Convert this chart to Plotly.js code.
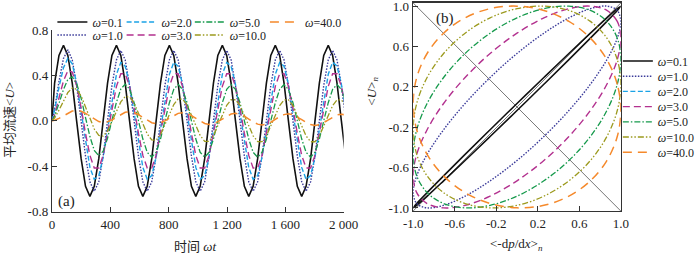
<!DOCTYPE html>
<html>
<head>
<meta charset="utf-8">
<script src="https://cdn.plot.ly/plotly-3.0.1.min.js"></script>
<style>html,body{margin:0;padding:0;background:#fff;}#chart{width:700px;height:254px;}</style>
</head>
<body>
<div id="chart"></div>
<script>
// ---------- data: panel (a), mean velocity vs time ----------
const omegaLabels = ['0.1', '1.0', '2.0', '3.0', '5.0', '10.0', '40.0'];
const timeTickVals = [0, 400, 800, 1200, 1600, 2000];
const timeTickText = ['0', '400', '800', '1 200', '1 600', '2 000'];
const velTickVals = [-0.8, -0.4, 0, 0.4, 0.8];
const velTickText = ['-0.8', '-0.4', '0.0', '0.4', '0.8'];

const tOmega = [0,
 18,48,79,109,139,169,200,230,260,290,321,351,
 381,411,442,472,502,532,563,593,623,653,684,714,
 744,774,805,835,865,895,926,956,986,1016,1047,1077,
 1107,1137,1168,1198,1228,1258,1289,1319,1349,1379,1410,1440,
 1470,1500,1531,1561,1591,1621,1652,1682,1712,1742,1773,1803,
 1833,1863,1894,1924,1954,1984,2015];

const uW01 = [0,
 0.333,0.576,0.665,0.576,0.333,0,-0.333,-0.576,-0.665,-0.576,-0.333,0,
 0.333,0.576,0.665,0.576,0.333,0,-0.333,-0.576,-0.665,-0.576,-0.333,0,
 0.333,0.576,0.665,0.576,0.333,0,-0.333,-0.576,-0.665,-0.576,-0.333,0,
 0.333,0.576,0.665,0.576,0.333,0,-0.333,-0.576,-0.665,-0.576,-0.333,0,
 0.333,0.576,0.665,0.576,0.333,0,-0.333,-0.576,-0.665,-0.576,-0.333,0,
 0.333,0.576,0.665,0.576,0.333,0,-0.333];

const uW1 = [0,
 0.103,0.346,0.550,0.625,0.537,0.310,0,-0.310,-0.537,-0.620,-0.537,-0.310,
 0,0.310,0.537,0.620,0.537,0.310,0,-0.310,-0.537,-0.620,-0.537,-0.310,
 0,0.310,0.537,0.620,0.537,0.310,0,-0.310,-0.537,-0.620,-0.537,-0.310,
 0,0.310,0.537,0.620,0.537,0.310,0,-0.310,-0.537,-0.620,-0.537,-0.310,
 0,0.310,0.537,0.620,0.537,0.310,0,-0.310,-0.537,-0.620,-0.537,-0.310,
 0,0.310,0.537,0.620,0.537,0.310,0];

const uW2 = [0,
 0.095,0.295,0.468,0.550,0.503,0.332,0.079,-0.191,-0.410,-0.515,-0.482,-0.320,
 -0.072,0.195,0.410,0.515,0.482,0.320,0.072,-0.195,-0.410,-0.515,-0.482,-0.320,
 -0.072,0.195,0.410,0.515,0.482,0.320,0.072,-0.195,-0.410,-0.515,-0.482,-0.320,
 -0.072,0.195,0.410,0.515,0.482,0.320,0.072,-0.195,-0.410,-0.515,-0.482,-0.320,
 -0.072,0.195,0.410,0.515,0.482,0.320,0.072,-0.195,-0.410,-0.515,-0.482,-0.320,
 -0.072,0.195,0.410,0.515,0.482,0.320,0.072];

const uW3 = [0,
 0.052,0.201,0.352,0.441,0.430,0.312,0.115,-0.111,-0.304,-0.415,-0.415,-0.304,
 -0.111,0.111,0.304,0.415,0.415,0.304,0.111,-0.111,-0.304,-0.415,-0.415,-0.304,
 -0.111,0.111,0.304,0.415,0.415,0.304,0.111,-0.111,-0.304,-0.415,-0.415,-0.304,
 -0.111,0.111,0.304,0.415,0.415,0.304,0.111,-0.111,-0.304,-0.415,-0.415,-0.304,
 -0.111,0.111,0.304,0.415,0.415,0.304,0.111,-0.111,-0.304,-0.415,-0.415,-0.304,
 -0.111,0.111,0.304,0.415,0.415,0.304,0.111];

const uW5 = [0,
 0.042,0.154,0.276,0.365,0.387,0.328,0.199,0.029,-0.138,-0.260,-0.307,-0.267,
 -0.153,0.006,0.164,0.280,0.323,0.279,0.161,0,-0.160,-0.277,-0.320,-0.277,
 -0.160,0,0.160,0.277,0.320,0.277,0.160,0,-0.160,-0.277,-0.320,-0.277,
 -0.160,0,0.160,0.277,0.320,0.277,0.160,0,-0.160,-0.277,-0.320,-0.277,
 -0.160,0,0.160,0.277,0.320,0.277,0.160,0,-0.160,-0.277,-0.320,-0.277,
 -0.160,0,0.160,0.277,0.320,0.277,0.160];

const uW10 = [0,
 0.025,0.094,0.178,0.250,0.289,0.278,0.219,0.125,0.020,-0.072,-0.128,-0.134,
 -0.089,-0.008,0.086,0.167,0.214,0.211,0.158,0.071,-0.029,-0.116,-0.168,-0.170,
 -0.121,-0.037,0.060,0.144,0.193,0.192,0.141,0.055,-0.043,-0.129,-0.180,-0.180,
 -0.130,-0.046,0.052,0.137,0.186,0.186,0.136,0.051,-0.047,-0.132,-0.182,-0.182,
 -0.133,-0.048,0.050,0.135,0.185,0.185,0.135,0.050,-0.048,-0.133,-0.184,-0.184,
 -0.134,-0.049,0.049,0.134,0.184,0.184,0.134];

const uW40 = [0,
 0.005,0.022,0.046,0.070,0.086,0.092,0.084,0.065,0.039,0.013,-0.006,-0.014,
 -0.008,0.009,0.033,0.057,0.075,0.081,0.073,0.054,0.029,0.003,-0.016,-0.024,
 -0.017,0.000,0.024,0.049,0.066,0.072,0.065,0.046,0.021,-0.005,-0.023,-0.031,
 -0.024,-0.007,0.018,0.042,0.060,0.066,0.059,0.041,0.015,-0.010,-0.029,-0.036,
 -0.029,-0.012,0.013,0.038,0.055,0.062,0.055,0.036,0.011,-0.014,-0.033,-0.040,
 -0.033,-0.015,0.009,0.034,0.052,0.059,0.052];

// ---------- data: panel (b), normalised velocity vs normalised pressure gradient ----------
const normTickVals = [-1, -0.6, -0.2, 0.2, 0.6, 1];
const normTickText = ['-1.0', '-0.6', '-0.2', '0.2', '0.6', '1.0'];
const gradN = [1,0.966,0.866,0.707,0.5,0.259,0,-0.259,-0.5,-0.707,-0.866,-0.966,-1,
 -0.966,-0.866,-0.707,-0.5,-0.259,0,0.259,0.5,0.707,0.866,0.966,1];
const uN01 = [0.999,0.974,0.883,0.731,0.530,0.292,0.035,-0.225,-0.469,-0.682,-0.848,-0.956,
 -0.999,-0.974,-0.883,-0.731,-0.530,-0.292,-0.035,0.225,0.469,0.682,0.848,0.956,0.999];
const uN1 = [0.848,0.956,0.999,0.974,0.883,0.731,0.530,0.292,0.035,-0.225,-0.469,-0.682,
 -0.848,-0.956,-0.999,-0.974,-0.883,-0.731,-0.530,-0.292,-0.035,0.225,0.469,0.682,0.848];
const gradN2 = [null];   // the omega=2.0 loop is not visible in panel (b)
const uN2 = [null];
const uN3 = [0.682,0.848,0.956,0.999,0.974,0.883,0.731,0.530,0.292,0.035,-0.225,-0.469,
 -0.682,-0.848,-0.956,-0.999,-0.974,-0.883,-0.731,-0.530,-0.292,-0.035,0.225,0.469,0.682];
const uN5 = [0.469,0.682,0.848,0.956,0.999,0.974,0.883,0.731,0.530,0.292,0.035,-0.225,
 -0.469,-0.682,-0.848,-0.956,-0.999,-0.974,-0.883,-0.731,-0.530,-0.292,-0.035,0.225,0.469];
const uN10 = [0.225,0.469,0.682,0.848,0.956,0.999,0.974,0.883,0.731,0.530,0.292,0.035,
 -0.225,-0.469,-0.682,-0.848,-0.956,-0.999,-0.974,-0.883,-0.731,-0.530,-0.292,-0.035,0.225];
const uN40 = [-0.035,0.225,0.469,0.682,0.848,0.956,0.999,0.974,0.883,0.731,0.530,0.292,
 0.035,-0.225,-0.469,-0.682,-0.848,-0.956,-0.999,-0.974,-0.883,-0.731,-0.530,-0.292,-0.035];

// ---------- styles ----------
const styles = [
  {color: '#111111', dash: 'solid', width: 1.6},
  {color: '#3b3b9a', dash: '1.5px,1.5px', width: 1.4},
  {color: '#1ba3e6', dash: '5px,2.5px', width: 1.4},
  {color: '#b3318f', dash: '7px,4px', width: 1.4},
  {color: '#169a4c', dash: '6px,2px,1.5px,2px', width: 1.3},
  {color: '#9c9a1e', dash: '6px,2px,1.5px,2px,1.5px,2px', width: 1.3},
  {color: '#f5892b', dash: '9px,6px', width: 1.5}
];
const uSeries = [uW01, uW1, uW2, uW3, uW5, uW10, uW40];
const nSeriesX = [gradN, gradN, gradN2, gradN, gradN, gradN, gradN];
const nSeriesY = [uN01, uN1, uN2, uN3, uN5, uN10, uN40];

// legend placement (pixels): panel (a) entries in a 4 x 2 grid, panel (b) a column
const leftLegendPos = [[53, 22], [53, 35], [123, 22], [123, 35], [192, 22], [192, 35], [268, 22]];
const rightLegendX = 625, rightLegendY0 = 61, rightLegendStep = 15.2;

const traces = [];
const layoutLegends = {};
for (let k = 0; k < 7; k++) {
  const id = k === 0 ? 'legend' : 'legend' + (k + 1);
  traces.push({
    type: 'scatter', mode: 'lines', x: tOmega, y: uSeries[k],
    xaxis: 'x', yaxis: 'y', name: '<i>ω</i>=' + omegaLabels[k], legend: id,
    line: {color: styles[k].color, dash: styles[k].dash, width: styles[k].width},
    hoverinfo: 'skip'
  });
  layoutLegends[id] = {x: leftLegendPos[k][0] / 700, xanchor: 'left', y: 1 - leftLegendPos[k][1] / 254,
    yanchor: 'middle', bgcolor: 'rgba(0,0,0,0)', font: {size: 12}, itemwidth: 30};
}
for (let k = 0; k < 7; k++) {
  const id = 'legend' + (k + 8);
  traces.push({
    type: 'scatter', mode: 'lines', x: nSeriesX[k], y: nSeriesY[k],
    xaxis: 'x2', yaxis: 'y2', name: '<i>ω</i>=' + omegaLabels[k], legend: id,
    line: {color: styles[k].color, dash: styles[k].dash, width: styles[k].width, shape: 'spline', smoothing: 1},
    hoverinfo: 'skip'
  });
  layoutLegends[id] = {x: rightLegendX / 700, xanchor: 'left', y: 1 - (rightLegendY0 + k * rightLegendStep) / 254,
    yanchor: 'middle', bgcolor: 'rgba(0,0,0,0)', font: {size: 12}, itemwidth: 30};
}

const serif = 'Liberation Serif, DejaVu Serif, Noto Sans CJK SC, serif';
const axisCommon = {showgrid: false, zeroline: false, ticks: 'inside', ticklen: 5, tickwidth: 1,
  tickcolor: '#333', showline: true, linecolor: '#333', linewidth: 1.2, ticklabeloverflow: 'allow',
  tickfont: {size: 13, color: '#222'}};

const layout = Object.assign({
  width: 700, height: 254, margin: {l: 0, r: 0, t: 0, b: 0},
  paper_bgcolor: '#fff', plot_bgcolor: '#fff', showlegend: true,
  font: {family: serif, size: 12, color: '#222'},
  xaxis: Object.assign({}, axisCommon, {domain: [0.0751, 0.4967], range: [0, 2000], anchor: 'y',
    tickvals: timeTickVals, ticktext: timeTickText}),
  yaxis: Object.assign({}, axisCommon, {domain: [0.1665, 0.8819], range: [-0.8, 0.8], anchor: 'x',
    tickvals: velTickVals, ticktext: velTickText}),
  xaxis2: Object.assign({}, axisCommon, {domain: [0.5971, 0.8971], range: [-1, 1], anchor: 'y2',
    mirror: true, linewidth: 1.5, tickvals: normTickVals, ticktext: normTickText}),
  yaxis2: Object.assign({}, axisCommon, {domain: [0.1693, 0.9882], range: [-1.03, 1.03], anchor: 'x2',
    mirror: true, linewidth: 1.5, tickvals: normTickVals, ticktext: normTickText}),
  shapes: [
    {type: 'line', xref: 'x2 domain', yref: 'y2 domain', x0: 0, y0: 0, x1: 1, y1: 1,
      line: {color: '#777', width: 1}, layer: 'below'},
    {type: 'line', xref: 'x2 domain', yref: 'y2 domain', x0: 0, y0: 1, x1: 1, y1: 0,
      line: {color: '#777', width: 1}, layer: 'below'}
  ],
  annotations: [
    {xref: 'x', yref: 'y', x: 102, y: -0.706, text: '(a)', showarrow: false, font: {size: 15},
      xanchor: 'center', yanchor: 'middle'},
    {xref: 'x2', yref: 'y2', x: -0.695, y: 0.876, text: '(b)', showarrow: false, font: {size: 15},
      xanchor: 'center', yanchor: 'middle'},
    {xref: 'paper', yref: 'paper', x: 197 / 700, y: 1 - 246 / 254, text: '时间 <i>ωt</i>', showarrow: false,
      font: {size: 13}, xanchor: 'center', yanchor: 'middle'},
    {xref: 'paper', yref: 'paper', x: 9 / 700, y: 1 - 120 / 254, text: '平均流速&lt;<i>U</i>&gt;', textangle: -90,
      showarrow: false, font: {size: 13}, xanchor: 'center', yanchor: 'middle'},
    {xref: 'paper', yref: 'paper', x: 522 / 700, y: 1 - 244 / 254, text: '&lt;-d<i>p</i>/d<i>x</i>&gt;<sub><i>n</i></sub>',
      showarrow: false, font: {size: 13}, xanchor: 'center', yanchor: 'middle'},
    {xref: 'paper', yref: 'paper', x: 376 / 700, y: 1 - 91 / 254, text: '&lt;<i>U</i>&gt;<sub><i>n</i></sub>', textangle: -90,
      showarrow: false, font: {size: 13}, xanchor: 'center', yanchor: 'middle'}
  ]
}, layoutLegends);

Plotly.newPlot('chart', traces, layout, {displayModeBar: false, staticPlot: true});
</script>
</body>
</html>
